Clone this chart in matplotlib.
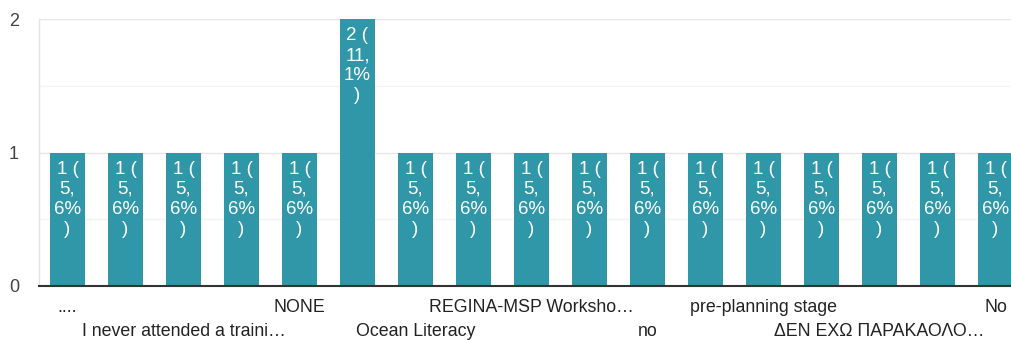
import matplotlib
matplotlib.use("Agg")
import matplotlib.pyplot as plt
from matplotlib.transforms import offset_copy

plt.rcParams['font.family'] = ['Liberation Sans', 'DejaVu Sans']

# Responses per answer (labels of skipped categories are not shown on the axis)
categories = [
    "....", "", "I never attended a traini…", "", "NONE", "",
    "Ocean Literacy", "", "REGINA-MSP Worksho…", "", "no", "",
    "pre-planning stage", "", "ΔΕΝ ΕΧΩ ΠΑΡΑΚΑΟΛΟ…", "", "No",
]
counts = [1, 1, 1, 1, 1, 2, 1, 1, 1, 1, 1, 1, 1, 1, 1, 1, 1]
y_ticks = [0, 1, 2]

bar_color = "#2f97a8"
total = sum(counts)

fig = plt.figure(figsize=(10.11, 3.40), dpi=100)
ax = fig.add_axes([38.5 / 1011, 54 / 340, 986 / 1011, 267 / 340])

x = list(range(len(categories)))
bars = ax.bar(x, counts, width=0.62, color=bar_color, zorder=3)

ax.set_xlim(-0.5, len(categories) - 0.5)
ax.set_ylim(0, 2)

# gridlines: major at integers, lighter at halves
for g in [0.5, 1.5]:
    ax.axhline(g, color="#f3f3f3", lw=1, zorder=1)
for g in [1, 2]:
    ax.axhline(g, color="#e6e6e6", lw=1, zorder=1)

for s in ["top", "right"]:
    ax.spines[s].set_visible(False)
ax.spines["left"].set_color("#e4e4e4")
ax.spines["left"].set_linewidth(1)
ax.spines["bottom"].set_color("#333333")
ax.spines["bottom"].set_linewidth(1.5)
ax.spines["bottom"].set_zorder(4)

ax.set_yticks(y_ticks)
ax.set_yticklabels([str(t) for t in y_ticks], fontsize=13, color="#444444")
ax.tick_params(axis="y", length=0, pad=14)
ax.set_xticks([])

# value labels inside bars, wrapped like the narrow column layout
for xi, v in zip(x, counts):
    pct = f"{v / total * 100:.1f}".replace(".", ",")
    whole, dec = pct.split(",")
    label = f"{v} (\n{whole},\n{dec}%\n)"
    tr = offset_copy(ax.transData, fig=fig, x=0, y=-5.8, units="points")
    ax.text(xi, v, label, transform=tr, ha="center", va="top",
            fontsize=13.5, color="white", linespacing=1.24, zorder=5)

# category labels on two staggered rows
for xi, name in zip(x, categories):
    if xi % 2:
        continue
    row = (xi // 2) % 2
    dy = -15.5 if row == 0 else -32.5
    ax.annotate(name, xy=(xi, 0), xycoords=("data", "axes fraction"),
                xytext=(0, dy), textcoords="offset points",
                ha="center", va="center", fontsize=12.8, color="#222222",
                annotation_clip=False)

fig.savefig("out.png", dpi=100)
